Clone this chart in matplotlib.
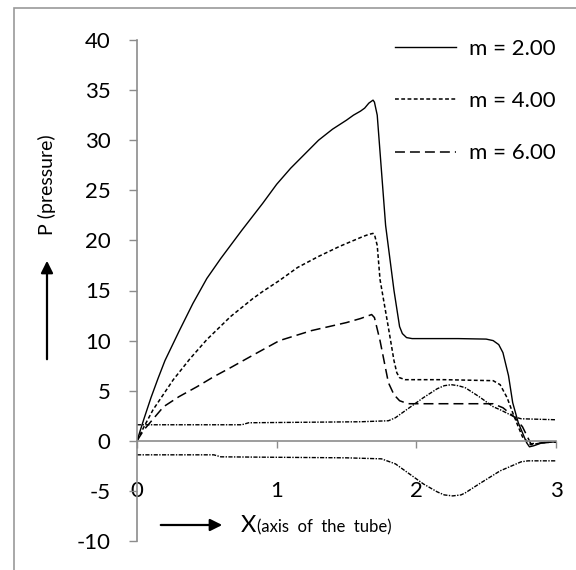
import matplotlib
matplotlib.use("Agg")
import matplotlib.pyplot as plt
from matplotlib.patches import Rectangle

plt.rcParams['font.family'] = ['Lato', 'DejaVu Sans']
plt.rcParams['axes.unicode_minus'] = False

# pressure curves
x_m2 = [0, 0.05, 0.1, 0.15, 0.2, 0.3, 0.4, 0.5, 0.6, 0.75, 0.9, 1.0, 1.1, 1.2, 1.3, 1.4,
        1.5, 1.55, 1.6, 1.63, 1.66, 1.69, 1.70, 1.72, 1.78, 1.84, 1.88, 1.90, 1.93, 1.97,
        2.0, 2.3, 2.5, 2.55, 2.59, 2.62, 2.66, 2.69, 2.73, 2.76, 2.79, 2.81, 2.84, 2.9, 3.0]
p_m2 = [0, 2.2, 4.3, 6.2, 8.0, 10.9, 13.7, 16.2, 18.2, 21.0, 23.7, 25.6, 27.2, 28.6, 30.0, 31.1,
        32.0, 32.5, 32.9, 33.2, 33.7, 34.0, 33.8, 32.5, 21.5, 15.0, 11.4, 10.7, 10.3, 10.2,
        10.2, 10.2, 10.15, 10.0, 9.6, 8.8, 6.5, 3.8, 1.8, 0.8, -0.2, -0.6, -0.5, -0.2, -0.1]

x_m4 = [0, 0.05, 0.115, 0.26, 0.38, 0.5, 0.67, 0.83, 0.9, 1.02, 1.15, 1.3, 1.45, 1.62, 1.66,
        1.69, 1.70, 1.72, 1.74, 1.80, 1.84, 1.86, 1.88, 1.92, 2.2, 2.55, 2.6, 2.65, 2.69,
        2.73, 2.76, 2.82, 2.9, 3.0]
p_m4 = [0, 1.4, 3.1, 6.1, 8.2, 10.1, 12.4, 14.2, 14.9, 16.0, 17.3, 18.4, 19.4, 20.4, 20.6,
        20.7, 20.6, 19.5, 16.1, 11.3, 8.0, 6.8, 6.3, 6.1, 6.1, 6.0, 5.6, 4.3, 2.8,
        1.4, 0.4, -0.4, -0.2, -0.1]

x_m6 = [0, 0.05, 0.19, 0.3, 0.43, 0.55, 0.67, 0.85, 1.02, 1.25, 1.5, 1.6, 1.64, 1.68, 1.70,
        1.74, 1.8, 1.84, 1.88, 1.92, 1.95, 2.3, 2.55, 2.62, 2.7, 2.76, 2.82, 2.9, 3.0]
p_m6 = [0, 1.1, 3.4, 4.4, 5.4, 6.4, 7.3, 8.7, 10.0, 11.0, 11.8, 12.2, 12.4, 12.6, 12.3,
        10.0, 5.8, 4.6, 4.0, 3.8, 3.7, 3.7, 3.7, 3.3, 2.4, 1.4, -0.3, -0.2, -0.1]

# the two unlabelled curves above and below the axis
x_up = [0, 0.75, 0.8, 1.6, 1.8, 1.85, 1.95, 2.05, 2.15, 2.2, 2.25, 2.3, 2.35, 2.45, 2.55,
        2.6, 2.7, 2.75, 3.0]
p_up = [1.6, 1.6, 1.8, 1.9, 2.0, 2.3, 3.3, 4.3, 5.2, 5.5, 5.6, 5.5, 5.3, 4.4, 3.4,
        3.1, 2.4, 2.2, 2.1]

x_lo = [0, 0.55, 0.6, 1.5, 1.75, 1.85, 1.95, 2.05, 2.15, 2.2, 2.26, 2.32, 2.35, 2.45, 2.6,
        2.75, 2.8, 3.0]
p_lo = [-1.4, -1.4, -1.6, -1.7, -1.8, -2.3, -3.3, -4.3, -5.1, -5.4, -5.5, -5.4, -5.2, -4.3, -3.0,
        -2.1, -2.0, -2.0]

labels = ['m = 2.00', 'm = 4.00', 'm = 6.00']
x_ticks = [0, 1, 2, 3]
y_ticks = list(range(-10, 41, 5))

W, H = 576, 570
fig = plt.figure(figsize=(W / 100, H / 100), dpi=100)
fig.patches.append(Rectangle((14 / W, -0.1), 1.2, 1 - 8 / H + 0.1, transform=fig.transFigure,
                             fill=False, edgecolor='#9a9a9a', linewidth=1.2))

ax = fig.add_axes([137 / W, 29 / H, 419 / W, 501 / H])
ax.set_xlim(0, 3)
ax.set_ylim(-10, 40)

grey = '#8c8c8c'
ax.spines['top'].set_visible(False)
ax.spines['right'].set_visible(False)
ax.spines['bottom'].set_position(('data', 0))
for s in ('bottom', 'left'):
    ax.spines[s].set_color(grey)
    ax.spines[s].set_linewidth(1.2)

l2, = ax.plot(x_m2, p_m2, color='black', lw=1.0)
l4, = ax.plot(x_m4, p_m4, color='black', lw=1.1, dashes=(2.5, 1.6))
l6, = ax.plot(x_m6, p_m6, color='black', lw=1.1, dashes=(6.5, 3.3))
ax.plot(x_up, p_up, color='black', lw=1.0, dashes=(3, 1.0, 1, 1.0))
ax.plot(x_lo, p_lo, color='black', lw=1.0, dashes=(3, 1.0, 1, 1.0))

ax.set_xticks(x_ticks)
ax.set_yticks(y_ticks)
ax.tick_params(axis='y', direction='out', length=6, width=1, color=grey,
               labelsize=16, pad=13)
ax.tick_params(axis='x', direction='out', length=5, width=1, color=grey,
               labelsize=16, pad=24)

ax.legend([l2, l4, l6], labels, loc='upper left', bbox_to_anchor=(395 / W, 1 - 39 / H),
          bbox_transform=fig.transFigure, frameon=False, fontsize=16,
          handlelength=2.75, handletextpad=0.6, labelspacing=1.45,
          borderpad=0, borderaxespad=0)

# axis titles with arrows
fig.text(47 / W, 1 - 185 / H, 'P (pressure)', rotation=90, ha='center', va='center',
         fontsize=14)
ax.annotate('', xy=(47 / W, 1 - 258 / H), xytext=(47 / W, 1 - 362 / H),
            xycoords='figure fraction', textcoords='figure fraction',
            arrowprops=dict(arrowstyle='-|>', color='black', lw=1.6, mutation_scale=18))
ax.annotate('', xy=(225 / W, 1 - 525 / H), xytext=(158 / W, 1 - 525 / H),
            xycoords='figure fraction', textcoords='figure fraction',
            arrowprops=dict(arrowstyle='-|>', color='black', lw=1.6, mutation_scale=18))
fig.text(241 / W, 1 - 525 / H, 'X', ha='left', va='center', fontsize=17)
fig.text(257 / W, 1 - 527 / H, '(axis  of  the  tube)', ha='left', va='center', fontsize=12)

fig.savefig('out.png', dpi=100)
